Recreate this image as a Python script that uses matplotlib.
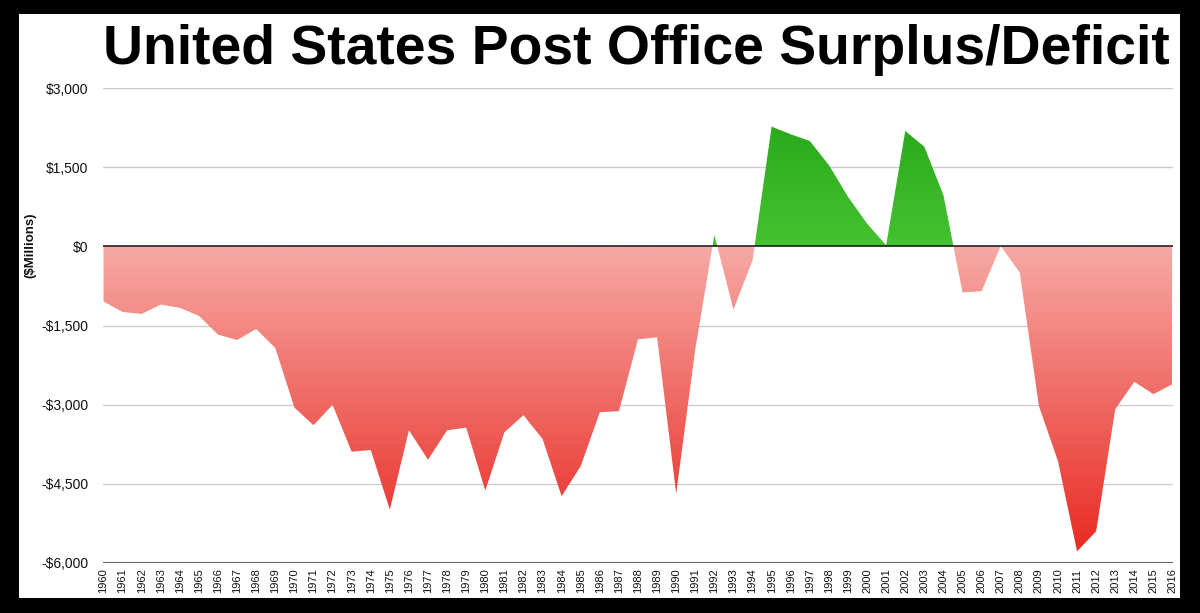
import numpy as np
import matplotlib
matplotlib.use("Agg")
import matplotlib.pyplot as plt
from matplotlib import font_manager
from matplotlib.colors import LinearSegmentedColormap
from matplotlib.patches import PathPatch
from matplotlib.path import Path
from matplotlib.ticker import FuncFormatter


YEARS = list(range(1960, 2017))
SURPLUS = [
    -1045, -1243, -1281, -1103, -1166, -1318, -1673, -1774, -1566, -1927,
    -3055, -3390, -3004, -3891, -3859, -4987, -3485, -4043, -3485, -3435,
    -4626, -3523, -3200, -3650, -4734, -4163, -3143, -3124, -1762, -1724,
    -4683, -1950, 215, -1198, -266, 2268, 2124, 1996, 1540, 939,
    431, 20, 2186, 1888, 970, -875, -850, 5, -500, -3023,
    -4068, -5779, -5399, -3086, -2567, -2801, -2611,
]
Y_TICKS = [-6000, -4500, -3000, -1500, 0, 1500, 3000]
TITLE = "United States Post Office Surplus/Deficit"

W, H = 1200, 613
TEXT = "#111111"
GRID = "#CCCCCC"


def pick_font(names):
    available = {f.name for f in font_manager.fontManager.ttflist}
    for name in names:
        if name in available:
            return name
    return "DejaVu Sans"


def main():
    base_font = pick_font(["Liberation Sans", "Arimo", "DejaVu Sans"])
    title_font = pick_font(["Liberation Sans Narrow", "Liberation Sans", "DejaVu Sans"])
    plt.rcParams["font.family"] = base_font

    fig = plt.figure(figsize=(W / 100, H / 100), dpi=100)
    fig.patch.set_facecolor("black")

    # white card inside the black frame
    card = fig.add_axes([19 / W, (H - 598) / H, (1180 - 19) / W, (598 - 14) / H])
    card.set_facecolor("white")
    card.set_xticks([])
    card.set_yticks([])
    for s in card.spines.values():
        s.set_visible(False)
    card.set_zorder(0)

    left, right = 103.5 / W, 1172.5 / W
    top, bottom = (H - 88) / H, (H - 563) / H
    ax = fig.add_axes([left, bottom, right - left, top - bottom])
    ax.set_zorder(1)
    ax.patch.set_alpha(0)

    x = np.array(YEARS, dtype=float)
    y = np.array(SURPLUS, dtype=float)
    ymin, ymax = -6000, 3000

    # area polygon between curve and zero, used to clip gradients
    verts = [(x[0], 0)] + list(zip(x, y)) + [(x[-1], 0), (x[0], 0)]
    clip = PathPatch(Path(verts), transform=ax.transData, facecolor="none", edgecolor="none")
    ax.add_patch(clip)

    red = LinearSegmentedColormap.from_list("red", ["#E8261E", "#F7A9A5"])
    green = LinearSegmentedColormap.from_list("green", ["#45C22F", "#28A81C"])
    grad = np.linspace(0, 1, 256).reshape(-1, 1)
    im_r = ax.imshow(grad, cmap=red, origin="lower", aspect="auto",
                     extent=[x[0], x[-1], ymin, 0], zorder=2)
    im_r.set_clip_path(clip)
    im_g = ax.imshow(grad, cmap=green, origin="lower", aspect="auto",
                     extent=[x[0], x[-1], 0, 2400], zorder=2)
    im_g.set_clip_path(clip)
    ax.set_xlim(x[0], x[-1])
    ax.set_ylim(ymin, ymax)

    for v in Y_TICKS:
        if v == 0:
            ax.axhline(v, color="#111111", lw=1.1, zorder=3)
        elif v == ymin:
            ax.axhline(v, color="#6A6A6A", lw=1.6, zorder=3)
        else:
            ax.axhline(v, color=GRID, lw=1.0, zorder=1)

    for s in ax.spines.values():
        s.set_visible(False)

    ax.set_yticks(Y_TICKS)
    ax.yaxis.set_major_formatter(FuncFormatter(
        lambda v, _: f"-${abs(int(v)):,}" if v < 0 else f"${int(v):,}"))
    ax.tick_params(axis="y", length=0, pad=11, labelsize=10, colors=TEXT)
    ax.set_xticks(YEARS)
    ax.set_xticklabels([str(v) for v in YEARS], rotation=90)
    ax.tick_params(axis="x", length=0, pad=4, labelsize=8, colors=TEXT)

    fig.text(30 / W, (H - 245) / H, "($Millions)", rotation=90, ha="center",
             va="center", fontsize=9.5, fontweight="bold", color=TEXT)

    title = fig.text(1170 / W, (H - 64) / H, TITLE, ha="right", va="baseline",
                     fontsize=40, fontweight="bold", color="black", family=title_font)
    fig.canvas.draw()
    bb = title.get_window_extent()
    target = 1170 - 105
    title.set_fontsize(40 * target / bb.width)

    fig.savefig("out.png", dpi=100, facecolor=fig.get_facecolor())


if __name__ == "__main__":
    main()
